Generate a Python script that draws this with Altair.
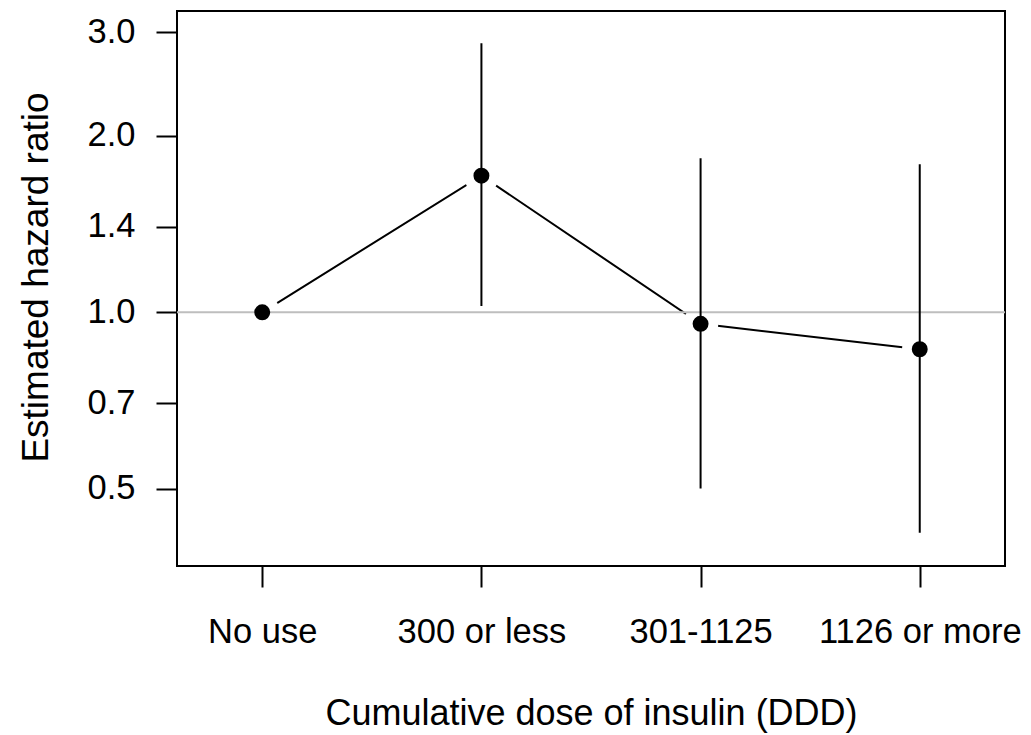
import altair as alt
import pandas as pd

categories = ["No use", "300 or less", "301-1125", "1126 or more"]
hazard_ratio = [1.0, 1.709, 0.956, 0.865]
ci_categories = ["300 or less", "301-1125", "1126 or more"]
ci_lower = [1.025, 0.501, 0.421]
ci_upper = [2.873, 1.830, 1.787]
y_ticks = [0.5, 0.7, 1.0, 1.4, 2.0, 3.0]
reference_hr = [1.0]

pts = pd.DataFrame({"dose": categories, "hr": hazard_ratio, "order": list(range(len(categories)))})
ci = pd.DataFrame({"dose": ci_categories, "lower": ci_lower, "upper": ci_upper})
ref = pd.DataFrame({"hr": reference_hr})

FONT = "Liberation Sans"

x_enc = alt.X(
    "dose:N",
    sort=categories,
    scale=alt.Scale(type="point", padding=0.389),
    axis=alt.Axis(
        title="Cumulative dose of insulin (DDD)",
        labelAngle=0,
        labelFontSize=34.5,
        labelFont=FONT,
        labelColor="black",
        labelBaseline="alphabetic",
        labelPadding=55,
        labelLimit=0,
        labelOverlap=False,
        tickSize=21,
        tickWidth=2,
        tickColor="black",
        domain=False,
        titleFontSize=36,
        titleFont=FONT,
        titleFontWeight="normal",
        titleColor="black",
        titleX=414,
        titleY=158,
        titleAlign="center",
        titleBaseline="alphabetic",
    ),
)

y_scale = alt.Scale(type="log", domain=[0.3696, 3.261], nice=False, zero=False)
y_axis = alt.Axis(
    title="Estimated hazard ratio",
    values=y_ticks,
    format=".1f",
    grid=False,
    labelFontSize=34.5,
    labelFont=FONT,
    labelColor="black",
    labelPadding=21,
    labelLimit=0,
    tickSize=21,
    tickWidth=2,
    tickColor="black",
    domain=False,
    titleFontSize=37,
    titleFont=FONT,
    titleFontWeight="normal",
    titleColor="black",
    titleX=-130,
    titleY=266,
    titleAngle=270,
    titleAlign="center",
    titleBaseline="alphabetic",
)

line = alt.Chart(pts).mark_line(color="black", strokeWidth=2).encode(
    x=x_enc,
    y=alt.Y("hr:Q", scale=y_scale, axis=y_axis),
    order="order:Q",
)

halo = alt.Chart(pts).mark_point(filled=True, shape="circle", color="white", size=1260, opacity=1).encode(
    x=alt.X("dose:N", sort=categories),
    y=alt.Y("hr:Q"),
)

refline = alt.Chart(ref).mark_rule(color="#bebebe", strokeWidth=2).encode(
    y=alt.Y("hr:Q"),
)

bars = alt.Chart(ci).mark_rule(color="black", strokeWidth=2).encode(
    x=alt.X("dose:N", sort=categories),
    y=alt.Y("lower:Q"),
    y2="upper:Q",
)

dots = alt.Chart(pts).mark_point(filled=True, shape="circle", color="black", size=254, opacity=1).encode(
    x=alt.X("dose:N", sort=categories),
    y=alt.Y("hr:Q"),
)

chart = (
    alt.layer(line, halo, refline, bars, dots)
    .properties(
        width=828,
        height=555,
        autosize=alt.AutoSizeParams(type="none"),
        padding={"left": 177, "top": 11, "right": 26, "bottom": 169},
        background="white",
    )
    .configure_view(stroke="black", strokeWidth=2)
)

chart.save("out.html", embed_options={"renderer": "svg", "actions": False})
